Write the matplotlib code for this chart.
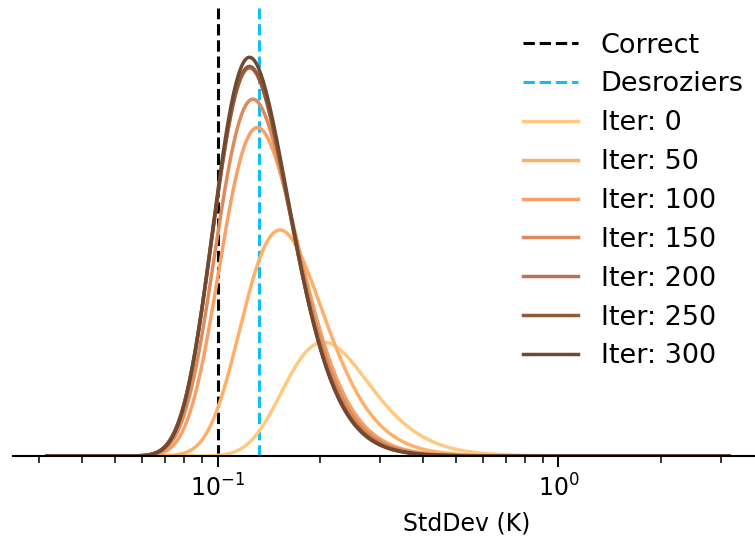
import numpy as np
import matplotlib
matplotlib.use('Agg')
import matplotlib.pyplot as plt
from math import lgamma

# Inverse-gamma posterior on the obs-error variance at selected iterations
iters = [0, 50, 100, 150, 200, 250, 300]
mode_std = [0.2046, 0.1525, 0.1310, 0.1270, 0.1242, 0.1241, 0.1241]   # K
alpha = [1.95, 2.25, 2.50, 2.58, 2.74, 2.75, 2.85]
colors = ['#FFC97F', '#FFB068', '#F7A067', '#DB8C5C', '#B87450', '#94583A', '#6F4A31']

std_correct = 0.100
std_desroziers = 0.132


def invgamma_pdf(v, a, b):
    return np.exp(a * np.log(b) - lgamma(a) - (a + 1) * np.log(v) - b / v)


sigma = np.logspace(-1.5, 0.5, 600)

fig = plt.figure(figsize=(7.55, 5.45), dpi=100)
ax = fig.add_axes([0.0171, 0.1633, 0.9936, 0.822])

ax.axvline(std_correct, color='k', ls='--', lw=2.2, label='Correct')
ax.axvline(std_desroziers, color='#10BDF4', ls='--', lw=2.2, label='Desroziers')

peak = 0
for it, m, a, c in zip(iters, mode_std, alpha, colors):
    b = (a + 1) * m ** 2
    pdf = invgamma_pdf(sigma ** 2, a, b)
    peak = max(peak, pdf.max())
    ax.plot(sigma, pdf, color=c, lw=2.5, label=f'Iter: {it}')

ax.set_xscale('log')
ax.set_xlim(10 ** -1.6, 10 ** 0.6)
ax.set_ylim(0, peak / 0.89)
ax.set_yticks([])
for s in ('left', 'right', 'top'):
    ax.spines[s].set_visible(False)
ax.spines['bottom'].set_linewidth(1.5)
ax.tick_params(axis='x', which='major', length=8, width=1.4, labelsize=17, pad=5)
ax.tick_params(axis='x', which='minor', length=5, width=1.1)
ax.set_xlabel('StdDev (K)', fontsize=17)
ax.xaxis.set_label_coords(0.605, -0.124)

ax.legend(loc='upper left', bbox_to_anchor=(0.661, 0.985),
          bbox_transform=fig.transFigure, frameon=False, fontsize=19.5,
          handlelength=2.0, handletextpad=0.85, labelspacing=0.475)

fig.savefig('out.png', dpi=100)
